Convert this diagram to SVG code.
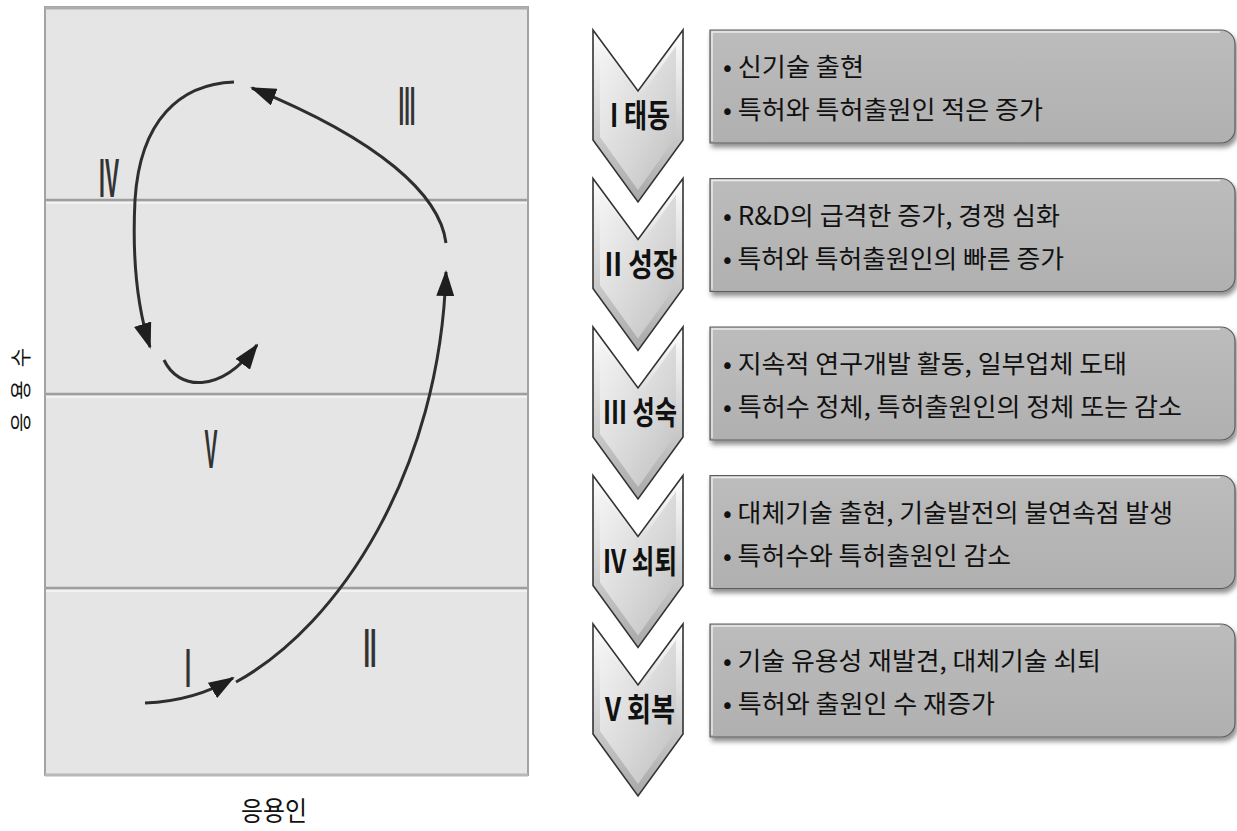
<svg xmlns="http://www.w3.org/2000/svg" width="1237" height="831" viewBox="0 0 1237 831">
<defs>
<style>
.bt{font-family:"Noto Sans CJK KR","Noto Sans",sans-serif;font-size:25px;fill:#111}
.cl{font-family:"Noto Sans CJK KR","Noto Sans",sans-serif;font-size:32px;font-weight:bold;fill:#111;text-anchor:middle}
.rn{font-family:"Liberation Sans",Arial,sans-serif;font-size:56px;font-weight:bold;fill:#333333;text-anchor:middle}
.ax{font-family:"Noto Sans CJK KR","Noto Sans",sans-serif;fill:#111;text-anchor:middle}
.grid{stroke:#9e9e9e;stroke-width:2.5}
.gridhl{stroke:#f2f2f2;stroke-width:2}
.cv{fill:none;stroke:#2e2e2e;stroke-width:3;marker-end:url(#ah)}
</style>
<marker id="ah" markerUnits="userSpaceOnUse" markerWidth="26" markerHeight="18" refX="24" refY="9" orient="auto" viewBox="0 0 26 18"><path d="M0,0 L26,9 L0,18 z" fill="#1e1e1e"/></marker>
<linearGradient id="chevG" x1="0" y1="0" x2="1" y2="1">
<stop offset="0" stop-color="#f4f4f4"/>
<stop offset="0.6" stop-color="#d6d6d6"/>
<stop offset="1" stop-color="#bdbdbd"/>
</linearGradient>
<linearGradient id="chevEdge" x1="0" y1="0" x2="0" y2="1">
<stop offset="0" stop-color="#ffffff"/>
<stop offset="1" stop-color="#a8a8a8"/>
</linearGradient>
<linearGradient id="boxG" x1="0" y1="0" x2="0" y2="1">
<stop offset="0" stop-color="#bcbcbc"/>
<stop offset="1" stop-color="#b0b0b0"/>
</linearGradient>
<filter id="sh" x="-5%" y="-15%" width="112%" height="140%">
<feDropShadow dx="2" dy="4" stdDeviation="2.5" flood-color="#000" flood-opacity="0.45"/>
</filter>
<g id="chev">
<path d="M593,0 L638,61 L683,0 L683,110 L638,172 L593,110 Z" fill="url(#chevEdge)" stroke="#333" stroke-width="1.6"/>
<path d="M600,16 L638,70 L676,16 L676,107 L638,160 L600,107 Z" fill="url(#chevG)"/>
</g>
<g id="box">
<path d="M710,0 H1221 A14,14 0 0 1 1235,14 V99 A14,14 0 0 1 1221,113 H710 Z" fill="url(#boxG)" stroke="#5c5c5c" stroke-width="1.2" filter="url(#sh)"/>
<path d="M712,111 V2 H1220" fill="none" stroke="#ffffff" stroke-opacity="0.7" stroke-width="1.5"/>
</g>
</defs>
<rect width="1237" height="831" fill="#ffffff"/>

<g id="chart">
<rect x="45" y="7" width="483" height="768" fill="#e5e5e5" stroke="#a3a3a3" stroke-width="2"/>
<line x1="45" y1="8" x2="528" y2="8" stroke="#adadad" stroke-width="3"/>
<line x1="45" y1="775" x2="528" y2="775" stroke="#b8b8b8" stroke-width="3"/>
<line class="grid" x1="46" y1="200" x2="527" y2="200"/>
<line class="gridhl" x1="46" y1="203" x2="527" y2="203"/>
<line class="grid" x1="46" y1="394" x2="527" y2="394"/>
<line class="gridhl" x1="46" y1="397" x2="527" y2="397"/>
<line class="grid" x1="46" y1="588" x2="527" y2="588"/>
<line class="gridhl" x1="46" y1="591" x2="527" y2="591"/>
<text class="rn" x="407" y="125" textLength="17" lengthAdjust="spacingAndGlyphs">III</text>
<text class="rn" x="109" y="197" textLength="20" lengthAdjust="spacingAndGlyphs">IV</text>
<text class="rn" x="211" y="468" textLength="13" lengthAdjust="spacingAndGlyphs">V</text>
<text class="rn" x="188" y="687" textLength="6" lengthAdjust="spacingAndGlyphs">I</text>
<text class="rn" x="370" y="667" textLength="13" lengthAdjust="spacingAndGlyphs">II</text>
</g>

<g id="connectors">
<path class="cv" d="M145,703 Q195,701 233,678"/>
<path class="cv" d="M236,682 C340,625 440,470 446,272"/>
<path class="cv" d="M446,243 C440,195 380,140 252,88"/>
<path class="cv" d="M234,82 C180,84 140,120 135,200 C132,260 138,310 150,347"/>
<path class="cv" d="M164,360 C178,390 220,395 257,345"/>
</g>

<g id="axis-x"><text class="ax" x="274" y="821" font-size="27" textLength="66" lengthAdjust="spacingAndGlyphs">응용인</text></g>
<g id="axis-y"><text class="ax" transform="translate(28,390) rotate(-90)" font-size="21" textLength="84" lengthAdjust="spacing">응용수</text></g>

<g id="stage1">
<use href="#chev" transform="translate(0,30)"/>
<text class="cl" x="640" y="127" textLength="60" lengthAdjust="spacingAndGlyphs">I 태동</text>
<use href="#box" transform="translate(0,30)"/>
<text class="bt" x="723" y="76" textLength="141" lengthAdjust="spacingAndGlyphs">• 신기술 출현</text>
<text class="bt" x="723" y="119" textLength="320" lengthAdjust="spacingAndGlyphs">• 특허와 특허출원인 적은 증가</text>
</g>

<g id="stage2">
<use href="#chev" transform="translate(0,178.5)"/>
<text class="cl" x="641" y="275.5" textLength="73" lengthAdjust="spacingAndGlyphs">II 성장</text>
<use href="#box" transform="translate(0,178.5)"/>
<text class="bt" x="723" y="224.5" textLength="337" lengthAdjust="spacingAndGlyphs">• R&amp;D의 급격한 증가, 경쟁 심화</text>
<text class="bt" x="723" y="267.5" textLength="341" lengthAdjust="spacingAndGlyphs">• 특허와 특허출원인의 빠른 증가</text>
</g>

<g id="stage3">
<use href="#chev" transform="translate(0,327)"/>
<text class="cl" x="640" y="424" textLength="74" lengthAdjust="spacingAndGlyphs">III 성숙</text>
<use href="#box" transform="translate(0,327)"/>
<text class="bt" x="723" y="373" textLength="404" lengthAdjust="spacingAndGlyphs">• 지속적 연구개발 활동, 일부업체 도태</text>
<text class="bt" x="723" y="416" textLength="459" lengthAdjust="spacingAndGlyphs">• 특허수 정체, 특허출원인의 정체 또는 감소</text>
</g>

<g id="stage4">
<use href="#chev" transform="translate(0,475.5)"/>
<text class="cl" x="640" y="572.5" textLength="74" lengthAdjust="spacingAndGlyphs">IV 쇠퇴</text>
<use href="#box" transform="translate(0,475.5)"/>
<text class="bt" x="723" y="521.5" textLength="450" lengthAdjust="spacingAndGlyphs">• 대체기술 출현, 기술발전의 불연속점 발생</text>
<text class="bt" x="723" y="564.5" textLength="288" lengthAdjust="spacingAndGlyphs">• 특허수와 특허출원인 감소</text>
</g>

<g id="stage5">
<use href="#chev" transform="translate(0,624)"/>
<text class="cl" x="640" y="721" textLength="70" lengthAdjust="spacingAndGlyphs">V 회복</text>
<use href="#box" transform="translate(0,624)"/>
<text class="bt" x="723" y="670" textLength="378" lengthAdjust="spacingAndGlyphs">• 기술 유용성 재발견, 대체기술 쇠퇴</text>
<text class="bt" x="723" y="713" textLength="272" lengthAdjust="spacingAndGlyphs">• 특허와 출원인 수 재증가</text>
</g>
</svg>
